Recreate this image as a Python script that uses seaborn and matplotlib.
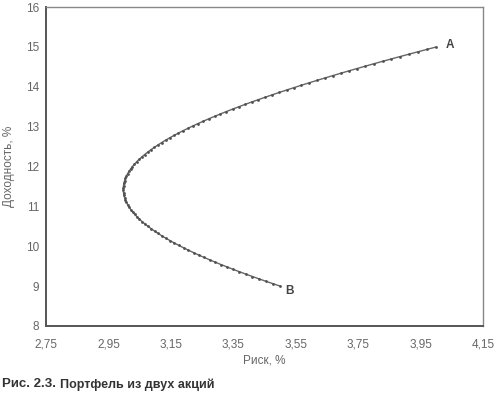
import matplotlib
matplotlib.use("Agg")
import matplotlib.pyplot as plt
import seaborn as sns
import pandas as pd

# Portfolio risk (%) for weights of stock A from 0 to 1 (step 0.01)
risk = [3.5000, 3.4772, 3.4548, 3.4329, 3.4114, 3.3904, 3.3698, 3.3497, 3.3300, 3.3109,
        3.2922, 3.2740, 3.2563, 3.2392, 3.2226, 3.2065, 3.1910, 3.1760, 3.1615, 3.1476,
        3.1343, 3.1216, 3.1095, 3.0979, 3.0870, 3.0766, 3.0669, 3.0578, 3.0493, 3.0415,
        3.0342, 3.0276, 3.0217, 3.0164, 3.0118, 3.0078, 3.0044, 3.0017, 2.9997, 2.9984,
        2.9977, 2.9976, 2.9983, 2.9995, 3.0015, 3.0041, 3.0074, 3.0113, 3.0159, 3.0211,
        3.0270, 3.0335, 3.0406, 3.0484, 3.0568, 3.0659, 3.0755, 3.0858, 3.0967, 3.1082,
        3.1203, 3.1329, 3.1462, 3.1600, 3.1743, 3.1893, 3.2048, 3.2208, 3.2374, 3.2545,
        3.2721, 3.2902, 3.3088, 3.3279, 3.3475, 3.3676, 3.3881, 3.4091, 3.4306, 3.4525,
        3.4748, 3.4975, 3.5207, 3.5443, 3.5682, 3.5926, 3.6173, 3.6424, 3.6680, 3.6938,
        3.7200, 3.7466, 3.7735, 3.8007, 3.8282, 3.8561, 3.8843, 3.9128, 3.9416, 3.9706,
        4.0000]
# Portfolio return (%)
ret = [9.00, 9.06, 9.12, 9.18, 9.24, 9.30, 9.36, 9.42, 9.48, 9.54,
       9.60, 9.66, 9.72, 9.78, 9.84, 9.90, 9.96, 10.02, 10.08, 10.14,
       10.20, 10.26, 10.32, 10.38, 10.44, 10.50, 10.56, 10.62, 10.68, 10.74,
       10.80, 10.86, 10.92, 10.98, 11.04, 11.10, 11.16, 11.22, 11.28, 11.34,
       11.40, 11.46, 11.52, 11.58, 11.64, 11.70, 11.76, 11.82, 11.88, 11.94,
       12.00, 12.06, 12.12, 12.18, 12.24, 12.30, 12.36, 12.42, 12.48, 12.54,
       12.60, 12.66, 12.72, 12.78, 12.84, 12.90, 12.96, 13.02, 13.08, 13.14,
       13.20, 13.26, 13.32, 13.38, 13.44, 13.50, 13.56, 13.62, 13.68, 13.74,
       13.80, 13.86, 13.92, 13.98, 14.04, 14.10, 14.16, 14.22, 14.28, 14.34,
       14.40, 14.46, 14.52, 14.58, 14.64, 14.70, 14.76, 14.82, 14.88, 14.94,
       15.00]

x_ticks = [2.75, 2.95, 3.15, 3.35, 3.55, 3.75, 3.95, 4.15]
x_tick_labels = ["2,75", "2,95", "3,15", "3,35", "3,55", "3,75", "3,95", "4,15"]
y_ticks = [8, 9, 10, 11, 12, 13, 14, 15, 16]
y_tick_labels = ["8", "9", "10", "11", "12", "13", "14", "15", "16"]

point_labels = ["A", "B"]
point_label_x = [4.03, 3.515]
point_label_y = [15.05, 8.88]

x_label = "Риск, %"
y_label = "Доходность, %"
caption_head = "Рис. 2.3."
caption_tail = "Портфель из двух акций"

df = pd.DataFrame({"risk": risk, "ret": ret})

sns.set_style("white")
plt.rcParams["font.family"] = ["Liberation Sans", "DejaVu Sans"]

fig = plt.figure(figsize=(5.0, 3.97), dpi=100)
ax = fig.add_axes([0.092, 0.179, 0.874, 0.803])

sns.lineplot(data=df, x="risk", y="ret", sort=False, ax=ax, color="#666666",
             linewidth=1.0, marker="o", markersize=2.0, markeredgewidth=0,
             markerfacecolor="#505050")

ax.set_xlim(2.75, 4.15)
ax.set_ylim(8, 16)
ax.set_xticks(x_ticks)
ax.set_xticklabels(x_tick_labels)
ax.set_yticks(y_ticks)
ax.set_yticklabels(y_tick_labels)
ax.tick_params(axis="both", direction="out", length=3, width=0.8, colors="#777777",
               labelcolor="#666666", labelsize=8.5, pad=2)
ax.tick_params(axis="x", pad=6)
for s in ax.spines.values():
    s.set_color("#888888")
    s.set_linewidth(1.0)
ax.spines["left"].set_linewidth(1.4)
ax.spines["bottom"].set_linewidth(1.4)
ax.spines["left"].set_color("#555555")
ax.spines["bottom"].set_color("#555555")

ax.set_xlabel(x_label, fontsize=8.5, color="#666666", labelpad=3)
ax.set_ylabel(y_label, fontsize=8.5, color="#666666", labelpad=8)

for lab, lx, ly in zip(point_labels, point_label_x, point_label_y):
    ax.text(lx, ly, lab, fontsize=8.5, fontweight="bold", color="#444444",
            ha="left", va="center")

head = fig.text(0.004, 0.032, caption_head, fontsize=9.5, fontweight="bold", color="#333333",
                family=["Liberation Sans Narrow", "Liberation Sans", "DejaVu Sans"],
                ha="left", va="center")
fig.canvas.draw()
bb = head.get_window_extent(renderer=fig.canvas.get_renderer())
fig.text(bb.x1 / fig.bbox.width + 0.008, 0.032, caption_tail, fontsize=9, fontweight="bold",
         color="#333333", family=["Liberation Sans", "DejaVu Sans"],
         ha="left", va="center")

fig.savefig("out.png", dpi=100)
